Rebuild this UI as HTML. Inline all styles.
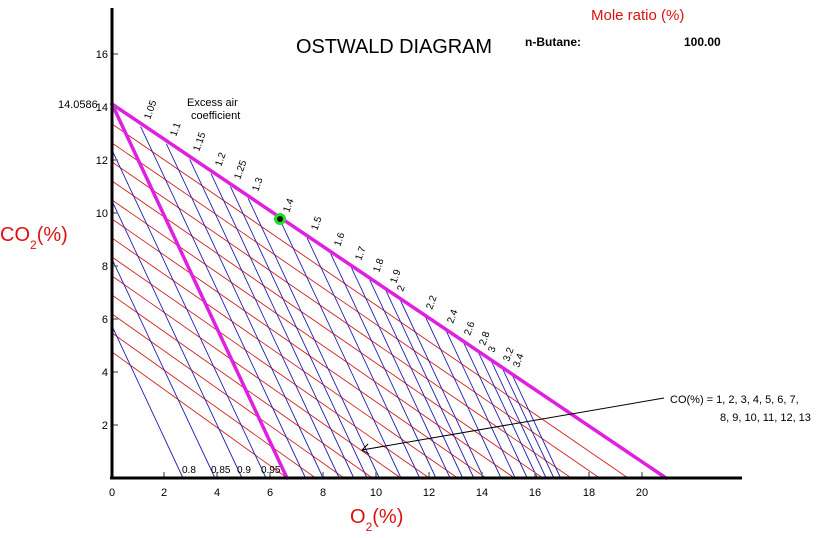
<!DOCTYPE html><html><head><style>body{margin:0;background:#fff}svg{display:block;font-family:"Liberation Sans","DejaVu Sans",sans-serif}</style></head><body>
<svg width="828" height="538" viewBox="0 0 828 538" xmlns="http://www.w3.org/2000/svg">
<g stroke="#d42020" stroke-width="0.9">
<line x1="112" y1="124" x2="628" y2="478"/><line x1="112" y1="143" x2="599.6" y2="478"/><line x1="112" y1="162" x2="571.2" y2="478"/><line x1="112" y1="181" x2="542.8" y2="478"/><line x1="112" y1="200" x2="514.4" y2="478"/><line x1="112" y1="219" x2="486" y2="478"/><line x1="112" y1="238" x2="457.6" y2="478"/><line x1="112" y1="257" x2="429.2" y2="478"/><line x1="112" y1="276" x2="400.8" y2="478"/><line x1="112" y1="295" x2="372.4" y2="478"/><line x1="112" y1="314" x2="344" y2="478"/><line x1="112" y1="333" x2="315.6" y2="478"/><line x1="112" y1="352" x2="287.2" y2="478"/>
</g>
<g stroke="#2020b0" stroke-width="0.9">
<line x1="112" y1="326" x2="183" y2="478"/><line x1="112" y1="259" x2="215" y2="478"/><line x1="112" y1="201" x2="242" y2="478"/><line x1="112" y1="150" x2="266" y2="478"/>
<line x1="140.6" y1="126.5" x2="305.5" y2="478"/><line x1="166.3" y1="143.7" x2="323.1" y2="478"/><line x1="189.7" y1="159.3" x2="339.2" y2="478"/><line x1="211" y1="173.6" x2="353.8" y2="478"/><line x1="230.4" y1="186.6" x2="367.1" y2="478"/><line x1="248.2" y1="198.5" x2="379.3" y2="478"/><line x1="279.9" y1="219.7" x2="401" y2="478"/><line x1="307.1" y1="237.9" x2="419.7" y2="478"/><line x1="330.7" y1="253.7" x2="435.9" y2="478"/><line x1="351.4" y1="267.6" x2="450.1" y2="478"/><line x1="369.7" y1="279.8" x2="462.7" y2="478"/><line x1="386" y1="290.7" x2="473.8" y2="478"/><line x1="400.5" y1="300.5" x2="483.7" y2="478"/><line x1="425.6" y1="317.2" x2="501" y2="478"/><line x1="446.3" y1="331.1" x2="515.2" y2="478"/><line x1="463.7" y1="342.7" x2="527.2" y2="478"/><line x1="478.6" y1="352.7" x2="537.4" y2="478"/><line x1="491.4" y1="361.3" x2="546.1" y2="478"/><line x1="502.6" y1="368.7" x2="553.9" y2="478"/><line x1="512.4" y1="375.3" x2="560.6" y2="478"/>
</g>
<g stroke="#e020e0" stroke-width="3.5" stroke-linecap="round">
<line x1="112" y1="104" x2="666" y2="478"/><line x1="112" y1="104" x2="287" y2="478"/>
</g>
<circle cx="280" cy="219" r="4.5" fill="#111" stroke="#22dd22" stroke-width="3"/>
<g stroke="#777" stroke-width="1.5">
<line x1="112" y1="54" x2="118" y2="54"/><line x1="112" y1="107" x2="118" y2="107"/><line x1="112" y1="160" x2="118" y2="160"/><line x1="112" y1="213" x2="118" y2="213"/><line x1="112" y1="266" x2="118" y2="266"/><line x1="112" y1="319" x2="118" y2="319"/><line x1="112" y1="372" x2="118" y2="372"/><line x1="112" y1="425" x2="118" y2="425"/>
<line x1="164" y1="472" x2="164" y2="478"/><line x1="217" y1="472" x2="217" y2="478"/><line x1="270" y1="472" x2="270" y2="478"/><line x1="323" y1="472" x2="323" y2="478"/><line x1="376" y1="472" x2="376" y2="478"/><line x1="429" y1="472" x2="429" y2="478"/><line x1="482" y1="472" x2="482" y2="478"/><line x1="535" y1="472" x2="535" y2="478"/><line x1="589" y1="472" x2="589" y2="478"/><line x1="642" y1="472" x2="642" y2="478"/>
</g>
<line x1="112" y1="8" x2="112" y2="479" stroke="#000" stroke-width="3"/>
<line x1="110" y1="478" x2="742" y2="478" stroke="#000" stroke-width="3"/>
<line x1="664" y1="398" x2="362" y2="450" stroke="#000" stroke-width="1"/>
<polyline points="368,444 362,450 369,454" fill="none" stroke="#000" stroke-width="1"/>
<g font-size="11" fill="#000">
<g text-anchor="end"><text x="108" y="58">16</text><text x="108" y="111">14</text><text x="108" y="164">12</text><text x="108" y="217">10</text><text x="108" y="270">8</text><text x="108" y="323">6</text><text x="108" y="376">4</text><text x="108" y="429">2</text></g>
<text x="58" y="108">14.0586</text>
<g text-anchor="middle"><text x="112" y="496">0</text><text x="164" y="496">2</text><text x="217" y="496">4</text><text x="270" y="496">6</text><text x="323" y="496">8</text><text x="376" y="496">10</text><text x="429" y="496">12</text><text x="482" y="496">14</text><text x="535" y="496">16</text><text x="589" y="496">18</text><text x="642" y="496">20</text></g>
<text x="187" y="106">Excess air</text><text x="191" y="119">coefficient</text>
<text x="670" y="403">CO(%) = 1, 2, 3, 4, 5, 6, 7,</text><text x="720" y="421">8, 9, 10, 11, 12, 13</text>
</g>
<g font-size="10" fill="#000"><text x="182" y="473">0.8</text><text x="211" y="473">0.85</text><text x="237" y="473">0.9</text><text x="261" y="473">0.95</text></g>
<g font-size="10" fill="#000">
<text transform="translate(150,120) rotate(-70)">1.05</text>
<text transform="translate(176,137) rotate(-70)">1.1</text>
<text transform="translate(199,152) rotate(-70)">1.15</text>
<text transform="translate(221,167) rotate(-70)">1.2</text>
<text transform="translate(240,180) rotate(-70)">1.25</text>
<text transform="translate(258,192) rotate(-70)">1.3</text>
<text transform="translate(289,213) rotate(-70)">1.4</text>
<text transform="translate(317,231) rotate(-70)">1.5</text>
<text transform="translate(340,247) rotate(-70)">1.6</text>
<text transform="translate(361,261) rotate(-70)">1.7</text>
<text transform="translate(379,273) rotate(-70)">1.8</text>
<text transform="translate(396,284) rotate(-70)">1.9</text>
<text transform="translate(403,292) rotate(-70)">2</text>
<text transform="translate(432,310) rotate(-70)">2.2</text>
<text transform="translate(453,324) rotate(-70)">2.4</text>
<text transform="translate(470,336) rotate(-70)">2.6</text>
<text transform="translate(485,346) rotate(-70)">2.8</text>
<text transform="translate(494,353) rotate(-70)">3</text>
<text transform="translate(509,362) rotate(-70)">3.2</text>
<text transform="translate(519,368) rotate(-70)">3.4</text>
</g>
<text x="296" y="53" font-size="20" textLength="196" fill="#000">OSTWALD DIAGRAM</text>
<text x="591" y="20" font-size="15" fill="#dd1111">Mole ratio (%)</text>
<text x="525" y="46" font-size="12" font-weight="bold" fill="#000">n-Butane:</text>
<text x="684" y="46" font-size="12" font-weight="bold" fill="#000">100.00</text>
<text x="0" y="241" font-size="20" fill="#dd1111">CO<tspan font-size="12" dy="8">2</tspan><tspan dy="-8">(%)</tspan></text>
<text x="350" y="523" font-size="20" fill="#dd1111">O<tspan font-size="12" dy="8">2</tspan><tspan dy="-8">(%)</tspan></text>
</svg></body></html>
